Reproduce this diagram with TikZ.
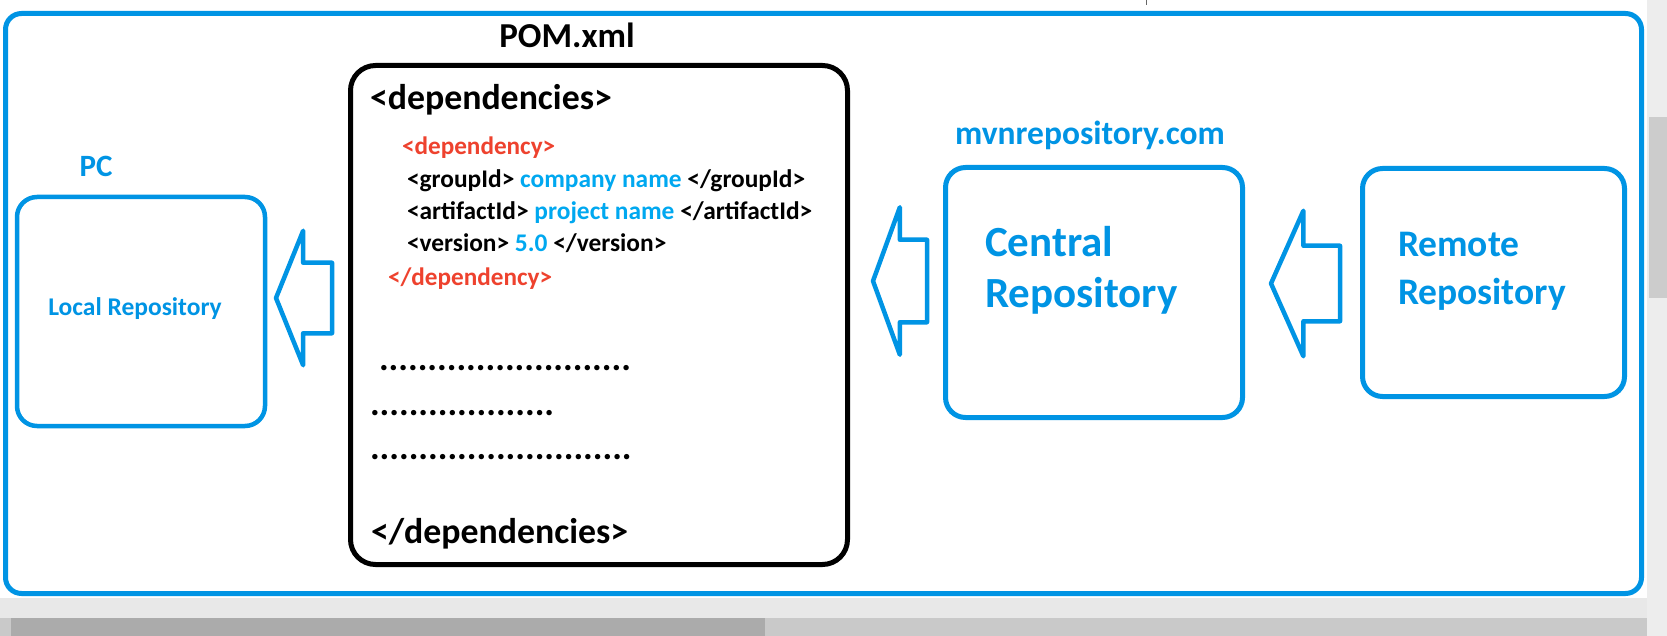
\documentclass[tikz,border=0pt]{standalone}
\usepackage{fontspec}
\setmainfont{Carlito}
\usepackage{xcolor}
\usetikzlibrary{shapes.arrows}

\definecolor{mvnblue}{RGB}{0,148,228}
\definecolor{nameblue}{RGB}{0,168,240}
\definecolor{xmlred}{RGB}{238,66,46}

\newcommand{\sz}[2]{\fontsize{#1}{#2}\selectfont}
\newcommand{\dotrun}[1]{\foreach \k in {1,...,#1}{.}}

\tikzset{
    repobox/.style={draw=mvnblue, line width=4.5pt, rounded corners=20pt, inner sep=0pt, outer sep=0pt},
    repoarrow/.style={single arrow, shape border rotate=180, draw=mvnblue, line width=4.5pt,
        inner xsep=0pt, outer sep=0pt, anchor=tip, line join=round},
    bluetext/.style={text=mvnblue, inner sep=0pt, outer sep=0pt},
    xmlline/.style={anchor=base west, inner sep=0pt, outer sep=0pt},
}

\begin{document}
\begin{tikzpicture}[x=1pt, y=-1pt]
    \useasboundingbox (0,0) rectangle (1667,636);
    \fill[white] (0,0) rectangle (1667,636);

    % window scroll bars
    \fill[black!9] (0,598) rectangle (1667,636);
    \fill[black!7] (1647,0) rectangle (1667,636);
    \fill[black!20] (1649,117) rectangle (1667,298);
    \fill[black!21] (0,618) rectangle (1647,636);
    \fill[black!33] (11,618) rectangle (765,636);
    \draw[black!60, line width=1pt] (1146,0) -- (1146,5);

    % outer frame
    \node[draw=mvnblue, line width=5pt, rounded corners=16pt, minimum width=1636pt,
        minimum height=580pt, inner sep=0pt] (frame) at (823.5,303.5) {};

    % boxes
    \node[repobox, minimum width=248pt, minimum height=229pt] (local) at (141,311.5) {};
    \node[draw, line width=5pt, rounded corners=25pt, minimum width=497pt,
        minimum height=499pt, inner sep=0pt] (pom) at (599,315) {};
    \node[repobox, line width=5pt, minimum width=297pt, minimum height=250pt] (central) at (1094,292.5) {};
    \node[repobox, line width=5pt, minimum width=262pt, minimum height=228pt] (remote) at (1493.5,282.5) {};

    % block arrows
    \node[repoarrow, inner ysep=33pt, minimum height=56pt, minimum width=131pt,
        single arrow head extend=32pt, single arrow tip angle=136] (toLocal) at (276,298) {};
    \node[repoarrow, inner ysep=39pt, minimum height=54pt, minimum width=145pt,
        single arrow head extend=32.5pt, single arrow tip angle=140] (toPom) at (873,281) {};
    \node[repoarrow, inner ysep=35.5pt, minimum height=69pt, minimum width=143pt,
        single arrow head extend=35pt, single arrow tip angle=132] (toCentral) at (1271,283.5) {};

    % labels
    \node[bluetext, font=\bfseries\sz{31}{34}] (pcLabel) at (96,166) {PC};
    \node[bluetext, anchor=base, font=\bfseries\sz{25.5}{30}] (localText) at (135,315) {Local Repository};
    \node[anchor=base, inner sep=0pt, font=\bfseries\sz{35}{40}] (pomTitle) at (567,48) {POM.xml};
    \node[bluetext, anchor=base, font=\bfseries\sz{33.5}{40}] (siteLabel) at (1090,145) {mvnrepository.com};
    \node[bluetext, anchor=base west, align=left, font=\bfseries\sz{43}{51}] (centralText) at (985,307) {Central\\Repository};
    \node[bluetext, anchor=base west, align=left, font=\bfseries\sz{37.5}{48}] (remoteText) at (1398,305) {Remote\\Repository};

    % pom content
    \node[xmlline, font=\bfseries\sz{35.8}{40}] (depsOpen) at (370,110) {<dependencies>};
    \node[xmlline, text=xmlred, font=\bfseries\sz{25.2}{30}] (depOpen) at (402,155) {<dependency>};
    \node[xmlline, font=\bfseries\sz{25.4}{30}] (groupLine) at (407,188)
        {<groupId> \textcolor{nameblue}{company name} </groupId>};
    \node[xmlline, font=\bfseries\sz{25.4}{30}] (artifactLine) at (407,220)
        {<artifactId> \textcolor{nameblue}{project name} </artifactId>};
    \node[xmlline, font=\bfseries\sz{25.4}{30}] (versionLine) at (407,252)
        {<version> \textcolor{nameblue}{5.0} </version>};
    \node[xmlline, text=xmlred, font=\bfseries\sz{25.2}{30}] (depClose) at (388,285) {</dependency>};
    \node[xmlline, font=\bfseries\sz{36.3}{40}] (dotsA) at (379,370) {\dotrun{26}};
    \node[xmlline, font=\bfseries\sz{36.3}{40}] (dotsB) at (370,415) {\dotrun{19}};
    \node[xmlline, font=\bfseries\sz{36.3}{40}] (dotsC) at (370,459) {\dotrun{27}};
    \node[xmlline, font=\bfseries\sz{35.8}{40}] (depsClose) at (371,543) {</dependencies>};
\end{tikzpicture}
\end{document}
